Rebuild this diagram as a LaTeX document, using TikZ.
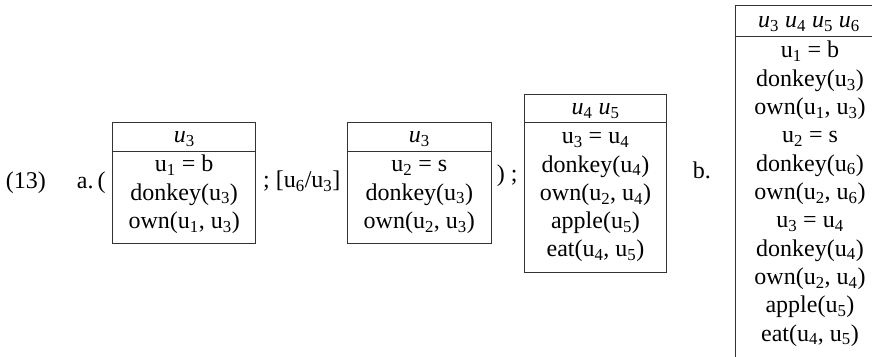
\documentclass[tikz,border=0pt]{standalone}
\usepackage{fontspec}
\setmainfont{Liberation Serif}
\begin{document}
\begin{tikzpicture}[x=1pt,y=1pt,
  txt/.style={inner sep=0pt, anchor=base, font=\fontsize{24}{28}\selectfont},
  ltxt/.style={txt, anchor=base west},
  boxline/.style={draw=black!80, line width=0.9pt}]
\useasboundingbox (0,0) rectangle (872,356);
% outside texts
\node[ltxt] (ex) at (5.7,167) {(13)};
\node[ltxt] (la) at (76.7,167) {a.\,(};
\node[ltxt] (subst) at (263,168) {; [u\textsubscript{6}/u\textsubscript{3}]};
\node[ltxt] (close) at (496.7,174) {) ;};
\node[ltxt] (lb) at (692.7,177) {b.};
% box 1
\draw[boxline] (112.7,112.7) rectangle (255.7,233.7);
\draw[boxline] (112.7,204.3) -- (255.7,204.3);
\node[txt] (h1) at (184.2,213) {\textit{u}\textsubscript{3}};
\node[txt] (b1a) at (184.2,184) {u\textsubscript{1} = b};
\node[txt] (b1b) at (184.2,155.8) {donkey(u\textsubscript{3})};
\node[txt] (b1c) at (184.2,127.6) {own(u\textsubscript{1}, u\textsubscript{3})};
% box 2
\draw[boxline] (347.7,112.7) rectangle (491,233.7);
\draw[boxline] (347.7,205) -- (491,205);
\node[txt] (h2) at (419.3,213) {\textit{u}\textsubscript{3}};
\node[txt] (b2a) at (419.3,184) {u\textsubscript{2} = s};
\node[txt] (b2b) at (419.3,155.8) {donkey(u\textsubscript{3})};
\node[txt] (b2c) at (419.3,127.6) {own(u\textsubscript{2}, u\textsubscript{3})};
% box 3
\draw[boxline] (524.3,84) rectangle (666.7,262);
\draw[boxline] (524.3,233.3) -- (666.7,233.3);
\node[txt] (h3) at (595.5,241) {\textit{u}\textsubscript{4} \textit{u}\textsubscript{5}};
\node[txt] (b3a) at (595.5,212) {u\textsubscript{3} = u\textsubscript{4}};
\node[txt] (b3b) at (595.5,183.8) {donkey(u\textsubscript{4})};
\node[txt] (b3c) at (595.5,155.6) {own(u\textsubscript{2}, u\textsubscript{4})};
\node[txt] (b3d) at (595.5,127.4) {apple(u\textsubscript{5})};
\node[txt] (b3e) at (595.5,99.2) {eat(u\textsubscript{4}, u\textsubscript{5})};
% box 4
\draw[boxline] (735.7,-5) rectangle (884,350.3);
\draw[boxline] (735.7,320) -- (884,320);
\node[txt] (h4) at (809,328) {\textit{u}\textsubscript{3} \textit{u}\textsubscript{4} \textit{u}\textsubscript{5} \textit{u}\textsubscript{6}};
\node[txt] (b4a) at (810,298) {u\textsubscript{1} = b};
\node[txt] (b4b) at (810,269.7) {donkey(u\textsubscript{3})};
\node[txt] (b4c) at (810,241.4) {own(u\textsubscript{1}, u\textsubscript{3})};
\node[txt] (b4d) at (810,213.1) {u\textsubscript{2} = s};
\node[txt] (b4e) at (810,184.8) {donkey(u\textsubscript{6})};
\node[txt] (b4f) at (810,156.5) {own(u\textsubscript{2}, u\textsubscript{6})};
\node[txt] (b4g) at (810,128.2) {u\textsubscript{3} = u\textsubscript{4}};
\node[txt] (b4h) at (810,99.9) {donkey(u\textsubscript{4})};
\node[txt] (b4i) at (810,71.6) {own(u\textsubscript{2}, u\textsubscript{4})};
\node[txt] (b4j) at (810,43.3) {apple(u\textsubscript{5})};
\node[txt] (b4k) at (810,15) {eat(u\textsubscript{4}, u\textsubscript{5})};
\end{tikzpicture}
\end{document}
